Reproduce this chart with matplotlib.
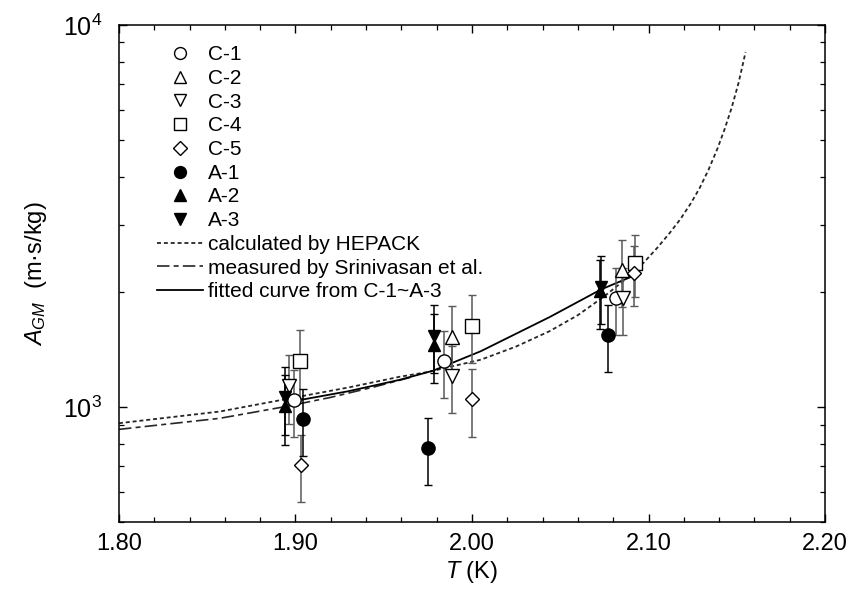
import matplotlib
matplotlib.use("Agg")
import matplotlib.pyplot as plt
from matplotlib.lines import Line2D
from matplotlib.ticker import MultipleLocator, NullFormatter, FormatStrFormatter, LogLocator
import numpy as np

plt.rcParams['font.family'] = ['Liberation Sans', 'DejaVu Sans']
plt.rcParams['mathtext.fontset'] = 'custom'
plt.rcParams['mathtext.rm'] = 'Liberation Sans'
plt.rcParams['mathtext.it'] = 'Liberation Sans:italic'

# measured points (T in K, A_GM in m.s/kg, symmetric error)
c1_T = [1.8991, 1.9841, 2.0816]
c1_A = [1043, 1319, 1933]
c1_e = [210, 265, 385]

c2_T = [1.9885, 2.0848]
c2_A = [1528, 2284]
c2_e = [305, 455]

c3_T = [1.8965, 1.9885, 2.0857]
c3_A = [1135, 1205, 1933]
c3_e = [230, 240, 385]

c4_T = [1.9025, 1.9998, 2.0924]
c4_A = [1321, 1632, 2385]
c4_e = [265, 330, 440]

c5_T = [1.9029, 1.9998, 2.0920]
c5_A = [705, 1047, 2239]
c5_e = [140, 210, 400]

a1_T = [1.9044, 1.9752, 2.0769]
a1_A = [930, 780, 1544]
a1_e = [185, 155, 310]

a2_T = [1.8940, 1.9785, 2.0725]
a2_A = [1006, 1454, 2010]
a2_e = [210, 300, 410]

a3_T = [1.8940, 1.9785, 2.0729]
a3_A = [1060, 1535, 2065]
a3_e = [215, 310, 420]

# curves
hep_T = [1.80, 1.857, 1.90, 1.93, 1.959, 1.975, 2.005, 2.025, 2.044, 2.06, 2.075,
         2.087, 2.097, 2.105, 2.112, 2.118, 2.124, 2.129, 2.134, 2.139, 2.143,
         2.147, 2.151, 2.155]
hep_A = [907, 973, 1060, 1125, 1200, 1235, 1330, 1440, 1580, 1740, 1950,
         2160, 2380, 2612, 2855, 3100, 3415, 3745, 4180, 4740, 5320,
         6050, 7050, 8500]

sri_T = [1.80, 1.857, 1.894, 1.92, 1.945, 1.965]
sri_A = [874, 934, 1002, 1060, 1130, 1195]

fit_T = [1.894, 1.9025, 1.93, 1.959, 1.978, 2.005, 2.044, 2.073, 2.093]
fit_A = [1030, 1043, 1100, 1178, 1245, 1400, 1720, 2030, 2220]

FS = 15

fig = plt.figure(figsize=(8.64, 5.92), dpi=100)
ax = fig.add_axes([0.1377, 0.1182, 0.8172, 0.8396])

ax.plot(hep_T, hep_A, color='0.15', lw=1.3, ls=(0, (2.2, 1.6)), zorder=2)
ax.plot(sri_T, sri_A, color='0.15', lw=1.2, ls=(0, (7.5, 2.5, 3, 2.5)), zorder=2)
ax.plot(fit_T, fit_A, color='black', lw=1.3, zorder=2)

series = [
    (c1_T, c1_A, c1_e, 'o', 'white', 9.5, '0.35'),
    (c2_T, c2_A, c2_e, '^', 'white', 10, '0.35'),
    (c3_T, c3_A, c3_e, 'v', 'white', 10, '0.35'),
    (c4_T, c4_A, c4_e, 's', 'white', 9.5, '0.35'),
    (c5_T, c5_A, c5_e, 'D', 'white', 7.5, '0.35'),
    (a1_T, a1_A, a1_e, 'o', 'black', 9.5, 'black'),
    (a2_T, a2_A, a2_e, '^', 'black', 9, 'black'),
    (a3_T, a3_A, a3_e, 'v', 'black', 9, 'black'),
]
for T, A, e, m, fc, ms, ecol in series:
    ax.errorbar(T, A, yerr=e, fmt='none', ecolor=ecol, elinewidth=1.1,
                capsize=3, capthick=1.0, zorder=3)
    ax.plot(T, A, ls='none', marker=m, ms=ms, mfc=fc, mec='black', mew=1.0, zorder=4)

labels = ['C-1', 'C-2', 'C-3', 'C-4', 'C-5', 'A-1', 'A-2', 'A-3']
handles = [Line2D([], [], ls='none', marker=s[3], mfc=s[4], mec='black', mew=1.0,
                  ms=s[5] * 0.9) for s in series]
handles += [Line2D([], [], color='0.15', lw=1.3, ls=(0, (2.2, 1.6))),
            Line2D([], [], color='0.15', lw=1.2, ls=(0, (7.5, 2.5, 3, 2.5))),
            Line2D([], [], color='black', lw=1.3)]
labels += ['calculated by HEPACK', 'measured by Srinivasan et al.',
           'fitted curve from C-1~A-3']
ax.legend(handles, labels, loc='upper left', bbox_to_anchor=(0.054, 0.959),
          frameon=False, fontsize=FS, handlelength=2.2, handletextpad=0.25,
          labelspacing=0.225, borderaxespad=0, borderpad=0)

ax.set_xlim(1.80, 2.20)
ax.set_yscale('log')
ax.set_ylim(500, 10000)
ax.xaxis.set_major_locator(MultipleLocator(0.1))
ax.xaxis.set_minor_locator(MultipleLocator(0.02))
ax.xaxis.set_major_formatter(FormatStrFormatter('%.2f'))
ax.yaxis.set_major_locator(LogLocator(base=10))
ax.yaxis.set_minor_locator(LogLocator(base=10, subs=np.arange(2, 10)))
ax.yaxis.set_minor_formatter(NullFormatter())

ax.tick_params(which='both', direction='in', top=True, right=True, labelsize=17)
ax.tick_params(axis='y', which='major', labelsize=18)
ax.tick_params(axis='x', which='major', length=6, width=1.0, pad=8)
ax.tick_params(axis='y', which='major', length=6, width=1.0, pad=12)
ax.tick_params(which='minor', length=3.5, width=0.9)
for sp in ax.spines.values():
    sp.set_linewidth(1.1)

ax.set_xlabel(r'$T$ (K)', fontsize=17, labelpad=3)
ax.set_ylabel(r'$A_{GM}$  (m·s/kg)', fontsize=17, labelpad=10)

fig.savefig('out.png', dpi=100)
